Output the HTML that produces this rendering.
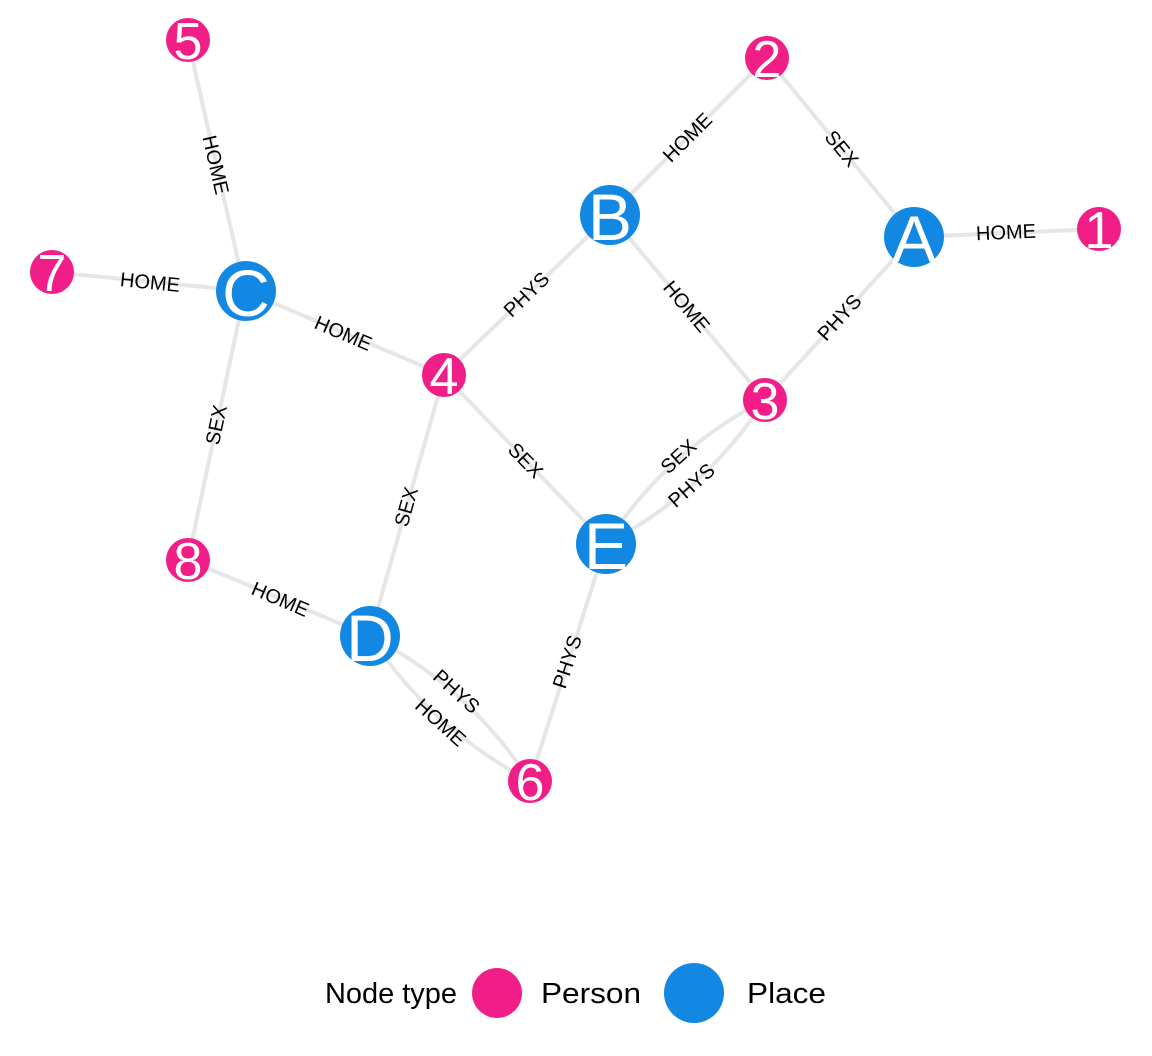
<!DOCTYPE html>
<html><head><meta charset="utf-8"><style>
html,body{margin:0;padding:0;background:#fff;}
svg{display:block;}
.e{stroke:#e6e6e6;stroke-width:4;fill:none;}
.l{font-family:"Liberation Sans",sans-serif;font-size:20px;fill:#000;text-anchor:middle;dominant-baseline:central;}
.p{fill:#f01e86;}
.b{fill:#1288e2;}
.t{font-family:"Liberation Sans",sans-serif;fill:#fff;text-anchor:middle;dominant-baseline:central;}
.g{font-family:"Liberation Sans",sans-serif;font-size:29px;fill:#000;dominant-baseline:central;}
</style></head><body>
<svg width="1152" height="1056" viewBox="0 0 1152 1056" xmlns="http://www.w3.org/2000/svg">
<line class="e" x1="188" y1="40" x2="245" y2="291"/>
<line class="e" x1="52" y1="272" x2="245" y2="291"/>
<line class="e" x1="245" y1="291" x2="444" y2="375"/>
<line class="e" x1="245" y1="291" x2="188" y2="560"/>
<line class="e" x1="188" y1="560" x2="370" y2="636"/>
<line class="e" x1="444" y1="375" x2="370" y2="636"/>
<line class="e" x1="444" y1="375" x2="610" y2="215"/>
<line class="e" x1="444" y1="375" x2="606" y2="544"/>
<line class="e" x1="610" y1="215" x2="767" y2="58"/>
<line class="e" x1="610" y1="215" x2="765" y2="400"/>
<line class="e" x1="767" y1="58" x2="914" y2="237"/>
<line class="e" x1="914" y1="237" x2="1099" y2="229"/>
<line class="e" x1="914" y1="237" x2="765" y2="400"/>
<path class="e" d="M606,544 Q666,451 765,400"/>
<path class="e" d="M606,544 Q704,493 765,400"/>
<line class="e" x1="606" y1="544" x2="530" y2="781"/>
<path class="e" d="M370,636 Q469,687 530,781"/>
<path class="e" d="M370,636 Q431,729 530,781"/>
<text class="l" transform="translate(215,165) rotate(77)">HOME</text>
<text class="l" transform="translate(150,283) rotate(5.6)">HOME</text>
<text class="l" transform="translate(343,334) rotate(23)">HOME</text>
<text class="l" transform="translate(217,425) rotate(-78)">SEX</text>
<text class="l" transform="translate(280,600) rotate(23)">HOME</text>
<text class="l" transform="translate(407,507) rotate(-74)">SEX</text>
<text class="l" transform="translate(527,295) rotate(-44)">PHYS</text>
<text class="l" transform="translate(525,461) rotate(46)">SEX</text>
<text class="l" transform="translate(688,138) rotate(-45)">HOME</text>
<text class="l" transform="translate(686,307) rotate(50)">HOME</text>
<text class="l" transform="translate(841,149) rotate(50.6)">SEX</text>
<text class="l" transform="translate(1006,233) rotate(-2.5)">HOME</text>
<text class="l" transform="translate(840,318) rotate(-47.6)">PHYS</text>
<text class="l" transform="translate(679,457) rotate(-42)">SEX</text>
<text class="l" transform="translate(692,486) rotate(-42)">PHYS</text>
<text class="l" transform="translate(568,662) rotate(-72)">PHYS</text>
<text class="l" transform="translate(456,692) rotate(42)">PHYS</text>
<text class="l" transform="translate(440,723) rotate(42)">HOME</text>
<g>
<circle class="p" cx="188" cy="40" r="22"/><text class="t" x="188" y="42" font-size="52">5</text>
<circle class="p" cx="767" cy="58" r="22"/><text class="t" x="767" y="60" font-size="52">2</text>
<circle class="p" cx="1099" cy="229" r="22"/><text class="t" x="1099" y="231" font-size="52">1</text>
<circle class="p" cx="52" cy="272" r="22"/><text class="t" x="52" y="274" font-size="52">7</text>
<circle class="p" cx="444" cy="375" r="22"/><text class="t" x="444" y="377" font-size="52">4</text>
<circle class="p" cx="765" cy="400" r="22"/><text class="t" x="765" y="402" font-size="52">3</text>
<circle class="p" cx="188" cy="560" r="22"/><text class="t" x="188" y="562" font-size="52">8</text>
<circle class="p" cx="530" cy="781" r="22"/><text class="t" x="530" y="783" font-size="52">6</text>
<circle class="b" cx="914" cy="237" r="30"/><text class="t" x="914" y="239" font-size="66">A</text>
<circle class="b" cx="610" cy="215" r="30"/><text class="t" x="610" y="217" font-size="66">B</text>
<circle class="b" cx="246" cy="291" r="30"/><text class="t" x="246" y="293" font-size="66">C</text>
<circle class="b" cx="370" cy="636" r="30"/><text class="t" x="370" y="638" font-size="66">D</text>
<circle class="b" cx="606" cy="544" r="30"/><text class="t" x="606" y="546" font-size="66">E</text>
</g>
<text class="g" x="325" y="994" textLength="132" lengthAdjust="spacingAndGlyphs">Node type</text>
<circle class="p" cx="497" cy="993" r="25"/>
<text class="g" x="541" y="994" textLength="100" lengthAdjust="spacingAndGlyphs">Person</text>
<circle class="b" cx="694" cy="993" r="30"/>
<text class="g" x="747" y="994" textLength="79" lengthAdjust="spacingAndGlyphs">Place</text>
</svg>
</body></html>
